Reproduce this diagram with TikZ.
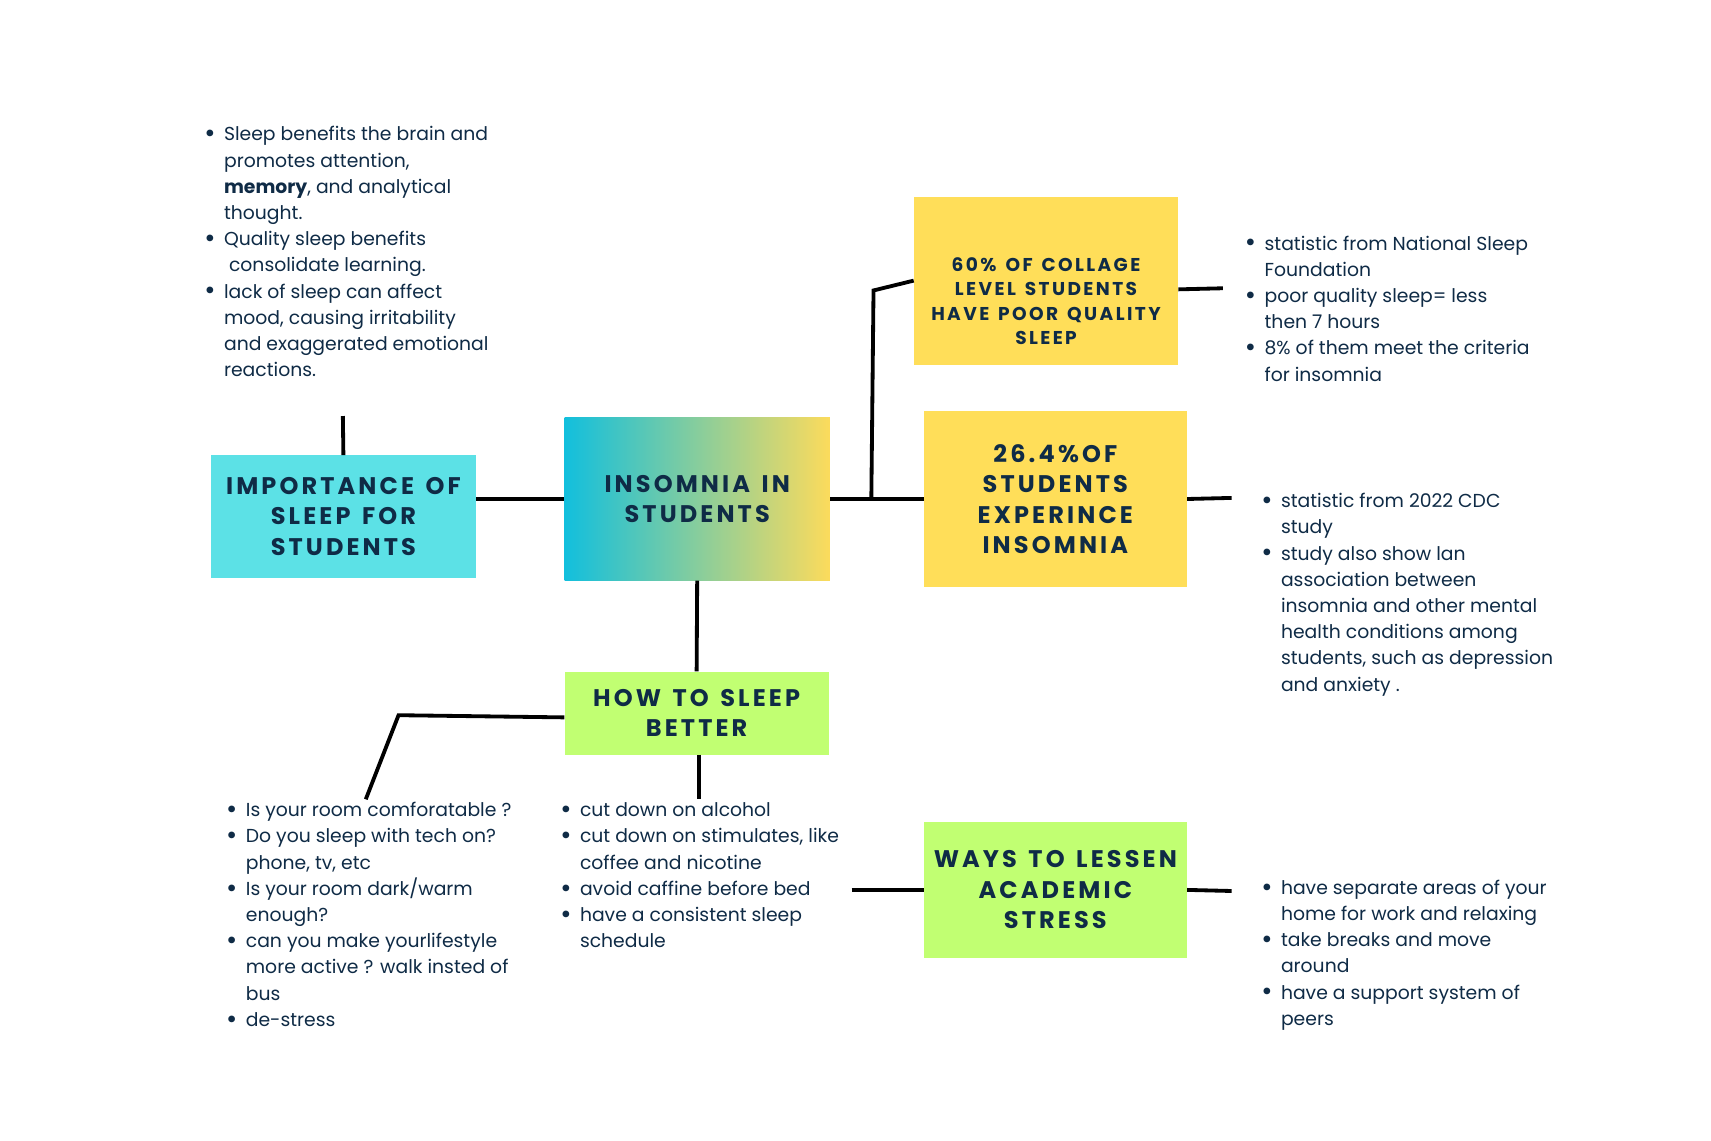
\documentclass[tikz,border=0pt]{standalone}
\usepackage{fontspec}
\setmainfont{Poppins}
\newfontfamily\headfont[LetterSpace=13,WordSpace=1.4]{Poppins}
\usetikzlibrary{positioning}

\definecolor{ink}{HTML}{0F2B46}
\definecolor{cyanbox}{HTML}{5CE1E6}
\definecolor{centrecyan}{HTML}{12BFDD}
\definecolor{centreyellow}{HTML}{FCDB5C}
\definecolor{statyellow}{HTML}{FFDE59}
\definecolor{tipgreen}{HTML}{C1FF72}

\newcommand{\bul}{\raisebox{-1.6pt}{\scalebox{1.45}{\textbullet}}}

\begin{document}
\begin{tikzpicture}[x=1pt, y=-1pt,
    topic/.style={rectangle, inner sep=0pt, align=center, text=ink,
      font=\headfont\bfseries\fontsize{22}{28}\selectfont},
    link/.style={line width=3.5pt, black},
    notes/.style={anchor=base west, inner sep=0pt, text=ink,
      font=\fontsize{17.2}{24}\selectfont}]
  \fill[white] (0,0) rectangle (1567,1044.7);
  \useasboundingbox (0,0) rectangle (1567,1044.7);

  % Central topic and its branches
  \node[topic, left color=centrecyan, right color=centreyellow,
    minimum width=243, minimum height=149] (insomnia) at (638.5,457)
    {INSOMNIA IN\\STUDENTS};
  \node[topic, fill=cyanbox, minimum width=243, minimum height=112]
    (importance) at (314.5,473) {IMPORTANCE OF\\SLEEP FOR\\STUDENTS};
  \node[topic, fill=statyellow, minimum width=242, minimum height=154,
    font=\headfont\bfseries\fontsize{17}{22.5}\selectfont]
    (collage) at (958,257)
    {\rule{0pt}{50pt}60\% OF COLLAGE\\LEVEL STUDENTS\\HAVE POOR QUALITY\\SLEEP};
  \node[topic, fill=statyellow, minimum width=241, minimum height=162]
    (rate) at (966.5,457) {26.4\%OF\\STUDENTS\\EXPERINCE\\INSOMNIA};
  \node[topic, fill=tipgreen, minimum width=242, minimum height=76]
    (sleepbetter) at (638,653) {HOW TO SLEEP\\BETTER};
  \node[topic, fill=tipgreen, minimum width=241, minimum height=124]
    (lessen) at (966.5,815) {WAYS TO LESSEN\\ACADEMIC\\STRESS};

  % Free ends of the connectors
  \coordinate (benefits) at (314,381);
  \coordinate (fork) at (798,456);
  \coordinate (collagenote) at (1120,264);
  \coordinate (ratenote) at (1128,456);
  \coordinate (roomtips) at (335,732);
  \coordinate (habittips) at (640,732);
  \coordinate (stressfree) at (780,815);
  \coordinate (lessennote) at (1128,816);

  % Connectors
  \draw[link] (benefits) -- (importance.north);
  \draw[link] (importance.east |- insomnia.west) -- (insomnia.west);
  \draw[link] (insomnia.east) -- (rate.west);
  \draw[link] (fork) -- (800,266) -- (collage.west);
  \draw[link] ([yshift=-8pt]collage.east) -- (collagenote);
  \draw[link] (rate.east) -- (ratenote);
  \draw[link] (insomnia.south) -- (sleepbetter.north);
  \draw[link] ([yshift=-4pt]sleepbetter.west) -- (365,655) -- (roomtips);
  \draw[link] (sleepbetter.south -| habittips) -- (habittips);
  \draw[link] (stressfree) -- (lessen.west);
  \draw[link] (lessen.east) -- (lessennote);

  % Bullet notes
  \node[notes] (benefitnotes) at (187,129) {\begin{tabular}[t]{@{}p{18pt}@{}l@{}}
    \bul & Sleep benefits the brain and\\
         & promotes attention,\\
         & \textbf{memory}, and analytical\\
         & thought.\\
    \bul & Quality sleep benefits\\
         & \ consolidate learning.\\
    \bul & lack of sleep can affect\\
         & mood, causing irritability\\
         & and exaggerated emotional\\
         & reactions.
  \end{tabular}};
  \node[notes] (collagenotes) at (1140,229) {\begin{tabular}[t]{@{}p{18pt}@{}l@{}}
    \bul & statistic from National Sleep\\
         & Foundation\\
    \bul & poor quality sleep= less\\
         & then 7 hours\\
    \bul & 8\% of them meet the criteria\\
         & for insomnia
  \end{tabular}};
  \node[notes] (ratenotes) at (1155,465) {\begin{tabular}[t]{@{}p{18pt}@{}l@{}}
    \bul & statistic from 2022 CDC\\
         & study\\
    \bul & study also show lan\\
         & association between\\
         & insomnia and other mental\\
         & health conditions among\\
         & students, such as depression\\
         & and anxiety .
  \end{tabular}};
  \node[notes] (roomnotes) at (207,748) {\begin{tabular}[t]{@{}p{18pt}@{}l@{}}
    \bul & Is your room comforatable ?\\
    \bul & Do you sleep with tech on?\\
         & phone, tv, etc\\
    \bul & Is your room dark/warm\\
         & enough?\\
    \bul & can you make yourlifestyle\\
         & more active ? walk insted of\\
         & bus\\
    \bul & de-stress
  \end{tabular}};
  \node[notes] (habitnotes) at (513,748) {\begin{tabular}[t]{@{}p{18pt}@{}l@{}}
    \bul & cut down on alcohol\\
    \bul & cut down on stimulates, like\\
         & coffee and nicotine\\
    \bul & avoid caffine before bed\\
    \bul & have a consistent sleep\\
         & schedule
  \end{tabular}};
  \node[notes] (lessennotes) at (1155,819) {\begin{tabular}[t]{@{}p{18pt}@{}l@{}}
    \bul & have separate areas of your\\
         & home for work and relaxing\\
    \bul & take breaks and move\\
         & around\\
    \bul & have a support system of\\
         & peers
  \end{tabular}};
\end{tikzpicture}
\end{document}
